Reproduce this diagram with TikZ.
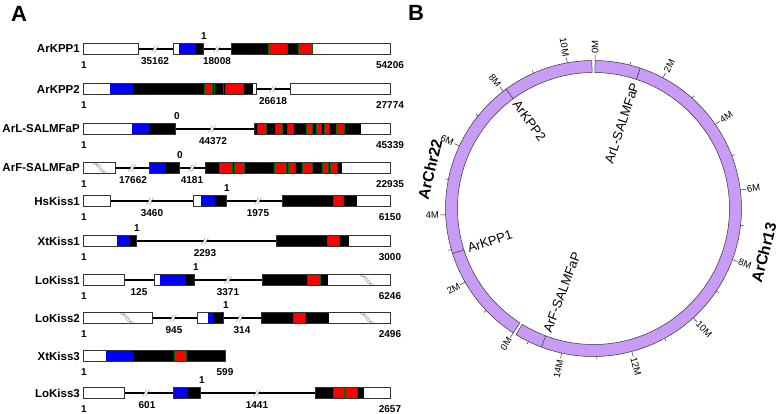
\documentclass[tikz,border=0pt]{standalone}
\usepackage{fontspec}
\setmainfont{Liberation Sans}

\definecolor{exblue}{RGB}{0,0,250}
\definecolor{exred}{RGB}{250,0,0}
\definecolor{exgreen}{RGB}{0,105,0}
\definecolor{chrfill}{RGB}{200,155,245}

% pieces of a gene row (local y: 0 = row centre)
\newcommand{\seg}[3]{\fill[#3] (#1,-5.5) rectangle (#2,5.5);}
\newcommand{\exbox}[2]{\draw[exon] (#1,-5.5) rectangle (#2,5.5);}
\newcommand{\stripe}[2]{\fill[exred] (#1,-5.5) rectangle (#2,5.5);
  \draw[exgreen,line width=0.8pt] (#1,-5.5)--(#1,5.5) (#2,-5.5)--(#2,5.5);}
\newcommand{\gline}[1]{\draw[exgreen,line width=0.8pt] (#1,-5.5)--(#1,5.5);}
\newcommand{\cutmark}[1]{\fill[white] (#1-3,3.5)--(#1-0.5,3.5)--(#1+3,-3.5)--(#1+0.5,-3.5)--cycle;
  \draw[gray,line width=0.4pt] (#1-3.5,3.5)--(#1+0.5,-3.5) (#1-0.5,3.5)--(#1+3.5,-3.5);}
\newcommand{\wavy}[1]{\draw[gray,line width=0.4pt] (#1-7,-4.5) .. controls (#1-1,-4.5) and (#1-1,4.5) .. (#1+4,4.5)
  (#1-4.5,-4.5) .. controls (#1+1.5,-4.5) and (#1+1.5,4.5) .. (#1+6.5,4.5);}

\tikzset{
  exon/.style={draw=black!80,line width=0.5pt},
  intron/.style={line width=2.3pt},
  rowname/.style={anchor=east,inner sep=1pt,font=\fontsize{11.5}{12}\selectfont\bfseries},
  num/.style={inner sep=0pt,font=\fontsize{10}{11}\selectfont\bfseries},
  panel/.style={font=\fontsize{22}{24}\selectfont\bfseries},
  chr/.style={fill=chrfill,draw=black!80,line width=0.5pt},
  tick/.style={draw=black!80,line width=0.5pt},
  tlab/.style={inner sep=1pt,font=\fontsize{9.5}{10}\selectfont},
  glab/.style={inner sep=1pt,font=\fontsize{13}{14}\selectfont},
  chrname/.style={font=\fontsize{15.5}{16}\selectfont\bfseries}
}

\begin{document}
\begin{tikzpicture}[x=1pt,y=-1pt]
\useasboundingbox (0,0) rectangle (780,413);

\node[panel] (pA) at (19,14) {A};
\node[panel] (pB) at (416,13) {B};

%% ---------------- A ----------------
% ArKPP1
\begin{scope}[yshift=-49pt]
\node[rowname] (kpp1) at (81,0) {ArKPP1};
\draw[intron] (138,0)--(173,0) (203,0)--(231,0);
\cutmark{155} \cutmark{217}
\filldraw[exon,fill=white] (83,-5.5) rectangle (138,5.5);
\seg{173}{179}{white} \seg{179}{196}{exblue} \seg{196}{203}{black} \exbox{173}{203}
\seg{231}{313}{black} \stripe{268}{287} \stripe{298}{312}
\seg{313}{390}{white} \exbox{231}{390}
\node[num] (kpp1-p) at (204,-13) {1};
\node[num] (kpp1-i1) at (155,12.5) {35162};
\node[num] (kpp1-i2) at (217,12.5) {18008};
\node[num] (kpp1-s) at (84,16) {1};
\node[num] (kpp1-e) at (390,16) {54206};
\end{scope}

% ArKPP2
\begin{scope}[yshift=-89pt]
\node[rowname] (kpp2) at (81,0) {ArKPP2};
\draw[intron] (256,0)--(290,0);
\cutmark{273}
\seg{83}{110}{white} \seg{110}{133}{exblue} \seg{133}{253}{black}
\stripe{204}{212} \stripe{225}{243} \gline{214} \gline{223}
\seg{253}{256}{white} \exbox{83}{256}
\filldraw[exon,fill=white] (290,-5.5) rectangle (390,5.5);
\node[num] (kpp2-i1) at (273,12.5) {26618};
\node[num] (kpp2-s) at (84,16) {1};
\node[num] (kpp2-e) at (390,16) {27774};
\end{scope}

% ArL-SALMFaP
\begin{scope}[yshift=-129pt]
\node[rowname] (arl) at (81,0) {ArL-SALMFaP};
\draw[intron] (175,0)--(254,0);
\cutmark{212}
\seg{83}{132}{white} \seg{132}{149}{exblue} \seg{149}{175}{black} \exbox{83}{175}
\seg{254}{361}{black} \gline{254.5}
\foreach \a/\b in {257/266,275/282,287/293,306/312,316/321,324/329,336/344}{\stripe{\a}{\b}}
\seg{361}{390}{white} \exbox{254}{390}
\node[num] (arl-p) at (177,-13) {0};
\node[num] (arl-i1) at (213,12.5) {44372};
\node[num] (arl-s) at (84,16) {1};
\node[num] (arl-e) at (390,16) {45339};
\end{scope}

% ArF-SALMFaP
\begin{scope}[yshift=-168pt]
\node[rowname] (arf) at (81,0) {ArF-SALMFaP};
\draw[intron] (115,0)--(149,0) (179,0)--(205,0);
\cutmark{132} \cutmark{192}
\filldraw[exon,fill=white] (83,-5.5) rectangle (115,5.5);
\wavy{100}
\seg{149}{166}{exblue} \seg{166}{179}{black} \exbox{149}{179}
\seg{205}{342}{black}
\foreach \a/\b in {219/232,234/244,274/286,288/295,302/312,322/328,330/337}{\stripe{\a}{\b}}
\seg{342}{390}{white} \exbox{205}{390}
\node[num] (arf-p) at (180,-13) {0};
\node[num] (arf-i1) at (133,12.5) {17662};
\node[num] (arf-i2) at (192,12.5) {4181};
\node[num] (arf-s) at (84,16) {1};
\node[num] (arf-e) at (390,16) {22935};
\end{scope}

% HsKiss1
\begin{scope}[yshift=-201pt]
\node[rowname] (hs1) at (81,0) {HsKiss1};
\draw[intron] (110,0)--(193,0) (226,0)--(282,0);
\cutmark{150} \cutmark{258}
\filldraw[exon,fill=white] (83,-5.5) rectangle (110,5.5);
\seg{193}{201}{white} \seg{201}{215}{exblue} \seg{215}{226}{black} \exbox{193}{226}
\seg{282}{357}{black} \stripe{333}{343}
\seg{357}{390}{white} \exbox{282}{390}
\node[num] (hs1-p) at (227,-13) {1};
\node[num] (hs1-i1) at (152,12.5) {3460};
\node[num] (hs1-i2) at (258,12.5) {1975};
\node[num] (hs1-s) at (84,16) {1};
\node[num] (hs1-e) at (390,16) {6150};
\end{scope}

% XtKiss1
\begin{scope}[yshift=-241pt]
\node[rowname] (xt1) at (81,0) {XtKiss1};
\draw[intron] (136,0)--(276,0);
\cutmark{205}
\seg{83}{117}{white} \seg{117}{130}{exblue} \seg{130}{136}{black} \exbox{83}{136}
\seg{276}{349}{black} \stripe{327}{339}
\seg{349}{390}{white} \exbox{276}{390}
\node[num] (xt1-p) at (137,-13) {1};
\node[num] (xt1-i1) at (205,12.5) {2293};
\node[num] (xt1-s) at (84,16) {1};
\node[num] (xt1-e) at (390,16) {3000};
\end{scope}

% LoKiss1
\begin{scope}[yshift=-280pt]
\node[rowname] (lo1) at (81,0) {LoKiss1};
\draw[intron] (124,0)--(154,0) (194,0)--(262,0);
\cutmark{228}
\filldraw[exon,fill=white] (83,-5.5) rectangle (124,5.5);
\seg{154}{160}{white} \seg{160}{186}{exblue} \seg{186}{194}{black} \exbox{154}{194}
\seg{262}{328}{black} \stripe{307}{320}
\seg{328}{390}{white} \wavy{367} \exbox{262}{390}
\node[num] (lo1-p) at (196,-13) {1};
\node[num] (lo1-i1) at (139,12.5) {125};
\node[num] (lo1-i2) at (228,12.5) {3371};
\node[num] (lo1-s) at (84,16) {1};
\node[num] (lo1-e) at (390,16) {6246};
\end{scope}

% LoKiss2
\begin{scope}[yshift=-318pt]
\node[rowname] (lo2) at (81,0) {LoKiss2};
\draw[intron] (152,0)--(197,0) (223,0)--(261,0);
\cutmark{173} \cutmark{240}
\filldraw[exon,fill=white] (83,-5.5) rectangle (152,5.5);
\wavy{127}
\seg{197}{208}{white} \seg{208}{213}{exblue} \seg{213}{223}{black} \exbox{197}{223}
\seg{261}{329}{black} \stripe{293}{305}
\seg{329}{390}{white} \wavy{367} \exbox{261}{390}
\node[num] (lo2-p) at (226,-13) {1};
\node[num] (lo2-i1) at (174,12.5) {945};
\node[num] (lo2-i2) at (242,12.5) {314};
\node[num] (lo2-s) at (84,16) {1};
\node[num] (lo2-e) at (390,16) {2496};
\end{scope}

% XtKiss3
\begin{scope}[yshift=-356pt]
\node[rowname] (xt3) at (81,0) {XtKiss3};
\seg{83}{106}{white} \seg{106}{133}{exblue} \seg{133}{225}{black} \stripe{174}{186}
\exbox{83}{225}
\node[num] (xt3-s) at (84,16) {1};
\node[num] (xt3-e) at (225,16) {599};
\end{scope}

% LoKiss3
\begin{scope}[yshift=-393pt]
\node[rowname] (lo3) at (81,0) {LoKiss3};
\draw[intron] (124,0)--(173,0) (200,0)--(315,0);
\cutmark{146} \cutmark{257}
\filldraw[exon,fill=white] (83,-5.5) rectangle (124,5.5);
\seg{173}{188}{exblue} \seg{188}{200}{black} \exbox{173}{200}
\seg{315}{364}{black} \stripe{333}{344} \stripe{345}{357}
\seg{364}{390}{white} \exbox{315}{390}
\node[num] (lo3-p) at (202,-13) {1};
\node[num] (lo3-i1) at (147,12.5) {601};
\node[num] (lo3-i2) at (257,12.5) {1441};
\node[num] (lo3-s) at (84,16) {1};
\node[num] (lo3-e) at (390,16) {2657};
\end{scope}

%% ---------------- B ----------------
% 13.7 deg per Mb, ArChr13 from 89.4, ArChr22 from 237.2 (clockwise)
\begin{scope}[shift={(593.5,208.5)},y=1pt]
\filldraw[chr] (89.4:136) arc[start angle=89.4,end angle=-121.58,radius=136]
  -- (-121.58:148) arc[start angle=-121.58,end angle=89.4,radius=148] -- cycle;
\filldraw[chr] (237.2:136) arc[start angle=237.2,end angle=90.61,radius=136]
  -- (90.61:148) arc[start angle=90.61,end angle=237.2,radius=148] -- cycle;

% ticks ArChr13
\foreach \m in {1,3,...,15}
  \draw[tick] ({89.4-13.7*\m}:148)--({89.4-13.7*\m}:151);
\foreach \m in {0,2,...,14}
  \draw[tick] ({89.4-13.7*\m}:148)--({89.4-13.7*\m}:153.5);
\foreach \m in {0,2,...,12}
  \node[tlab,anchor=west,rotate={89.4-13.7*\m}] (c13-\m) at ({89.4-13.7*\m}:153.5) {\m M};
\node[tlab,anchor=east,rotate={89.4-13.7*14+180}] (c13-14) at ({89.4-13.7*14}:153.5) {14M};

% ticks ArChr22
\foreach \m in {1,3,...,9}
  \draw[tick] ({237.2-13.7*\m}:148)--({237.2-13.7*\m}:151);
\foreach \m in {0,2,...,10}{
  \draw[tick] ({237.2-13.7*\m}:148)--({237.2-13.7*\m}:153.5);
  \node[tlab,anchor=east,rotate={237.2-13.7*\m+180}] (c22-\m) at ({237.2-13.7*\m}:153.5) {\m M};
}

% gene positions
\draw[tick] (71.6:136)--(71.6:148);
\draw[tick] (-110.6:136)--(-110.6:148);
\draw[tick] (126.2:136)--(126.2:148);
\draw[tick] (197.7:136)--(197.7:148);
\node[glab,anchor=east,rotate=71.6] (g-arl) at (71.6:133) {ArL-SALMFaP};
\node[glab,anchor=west,rotate=69.4] (g-arf) at (-110.6:133) {ArF-SALMFaP};
\node[glab,anchor=west,rotate=-53.8] (g-kpp2) at (126.2:133) {ArKPP2};
\node[glab,anchor=west,rotate=17.7] (g-kpp1) at (197.7:133) {ArKPP1};

\node[chrname,rotate=76.6] (chr22) at (166.6:168) {ArChr22};
\node[chrname,rotate=75.5] (chr13) at (-14.5:176) {ArChr13};
\end{scope}

\end{tikzpicture}
\end{document}
